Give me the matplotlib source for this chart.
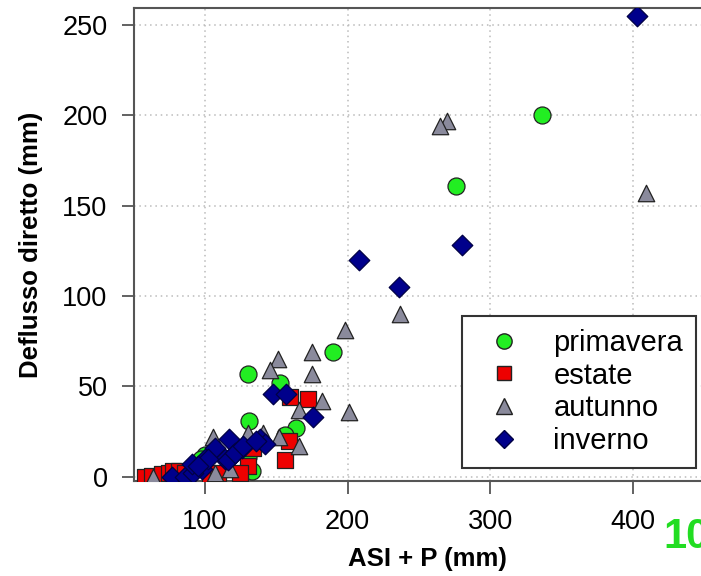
import matplotlib
matplotlib.use("Agg")
import matplotlib.pyplot as plt
from matplotlib.lines import Line2D

plt.rcParams['font.family'] = ['Liberation Sans', 'DejaVu Sans']

# ---- data ----
prim_x = [336, 276, 190, 130, 153, 131, 164, 156, 130, 133, 100, 97]
prim_y = [200, 161, 69, 57, 52, 31, 27, 23, 11, 3, 12, 10]

est_x = [160, 172, 159, 156, 134, 130, 58, 63, 70, 75, 78, 82, 86, 104, 109, 125]
est_y = [44, 43, 20, 9, 16, 6, 0, 0.5, 1.5, 2, 3, 3, 2, 0.5, 2, 2]

aut_x = [409, 270, 265, 237, 198, 201, 175, 175, 151, 146, 182, 166, 166, 152, 141, 130, 106, 107, 118, 64]
aut_y = [157, 197, 194, 90, 81, 36, 69, 57, 65, 59, 42, 37, 17, 22, 24, 24, 22, 2, 4, 0]

inv_x = [403, 280, 236, 208, 148, 157, 176, 107, 117, 126, 139, 142, 120, 114, 100, 98, 77, 86, 92, 91, 102, 116, 121, 127, 95, 136]
inv_y = [255, 128, 105, 120, 46, 46, 33, 16, 21, 16, 21, 18, 12, 10, 10, 4, 0, 0, 2, 7, 10, 9, 13, 17, 6, 20]

labels = ['primavera', 'estate', 'autunno', 'inverno']
x_ticks = [100, 200, 300, 400]
y_ticks = [0, 50, 100, 150, 200, 250]

W, H = 701, 576
fig = plt.figure(figsize=(W / 100, H / 100), dpi=100)
left_px, right_px, top_px, bot_px = 134, 720, 8.3, 481
ax = fig.add_axes([left_px / W, (H - bot_px) / H, (right_px - left_px) / W, (bot_px - top_px) / H])

ax.set_xlim(50.4, 461)
ax.set_ylim(-2.4, 259.2)

ax.grid(True, linestyle=(0, (1, 2.5)), color='#bbbbbb', linewidth=1.1, zorder=0)
ax.set_axisbelow(True)

edge = '#222222'
ax.scatter(prim_x, prim_y, marker='o', s=150, c='#22ee22', edgecolors=edge, linewidths=0.9, zorder=3)
ax.scatter(est_x, est_y, marker='s', s=120, c='#ee0000', edgecolors=edge, linewidths=0.9, zorder=3)
ax.scatter(aut_x, aut_y, marker='^', s=140, c='#8a8a9c', edgecolors=edge, linewidths=0.9, zorder=3)
ax.scatter(inv_x, inv_y, marker='D', s=110, c='#00008b', edgecolors='#000044', linewidths=0.9, zorder=3)

ax.set_xticks(x_ticks)
ax.set_yticks(y_ticks)
ax.tick_params(axis='both', labelsize=19.5, length=9, width=1.3, color='#555555', direction='out')
ax.tick_params(axis='x', pad=11)
ax.tick_params(axis='y', pad=10)
for sp in ['left', 'bottom', 'top']:
    ax.spines[sp].set_color('#555555')
    ax.spines[sp].set_linewidth(1.5)
ax.spines['right'].set_visible(False)

ax.set_xlabel('ASI + P (mm)', fontsize=18.5, fontweight='bold', labelpad=9)
ax.set_ylabel('Deflusso diretto (mm)', fontsize=18.5, fontweight='bold', labelpad=14)

handles = [
    Line2D([], [], marker='o', linestyle='none', markersize=11, markerfacecolor='#22ee22', markeredgecolor=edge),
    Line2D([], [], marker='s', linestyle='none', markersize=10, markerfacecolor='#ee0000', markeredgecolor=edge),
    Line2D([], [], marker='^', linestyle='none', markersize=11, markerfacecolor='#8a8a9c', markeredgecolor=edge),
    Line2D([], [], marker='D', linestyle='none', markersize=9.5, markerfacecolor='#00008b', markeredgecolor='#000044'),
]
leg = ax.legend(handles, labels, loc='lower left', bbox_to_anchor=((462 - left_px) / (right_px - left_px), (bot_px - 468) / (bot_px - top_px)),
                fontsize=21, frameon=True, fancybox=False, edgecolor='#333333', framealpha=1,
                borderpad=0.45, labelspacing=0.16, handletextpad=0.73, handlelength=1.95, borderaxespad=0)
leg.get_frame().set_linewidth(1.5)

fig.text(663 / W, (H - 557) / H, '10', fontsize=30, fontweight='bold', color='#22dd22', ha='left', va='bottom')

fig.savefig('out.png', dpi=100)
